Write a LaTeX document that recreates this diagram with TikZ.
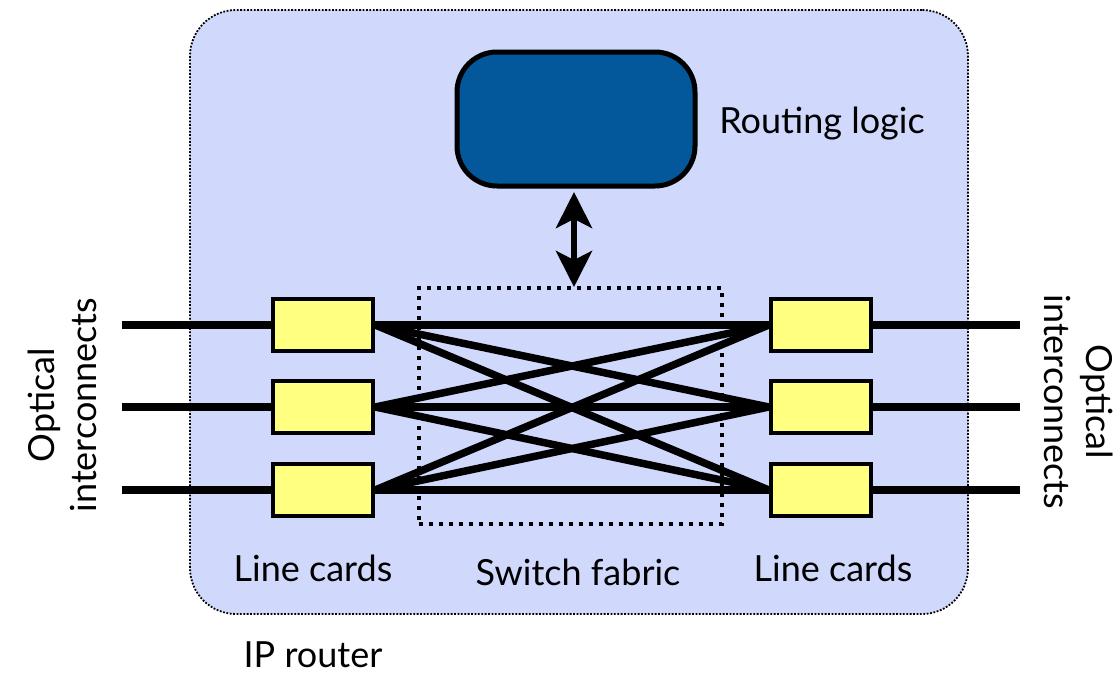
\documentclass[tikz,border=0pt]{standalone}
\usepackage{fontspec}
\setmainfont{Lato}
\usetikzlibrary{arrows.meta}
\definecolor{bgfill}{RGB}{208,216,252}
\definecolor{rlblue}{RGB}{2,88,155}
\definecolor{cardyellow}{RGB}{255,255,128}
\tikzset{
  card/.style={draw=black, line width=4.5pt, fill=cardyellow, minimum width=100pt, minimum height=52pt, inner sep=0pt},
  fabline/.style={line width=7.5pt},
  optline/.style={line width=8pt},
  lbl/.style={font=\fontsize{36}{40}\selectfont, inner sep=0pt},
}
\begin{document}
\begin{tikzpicture}[x=1pt,y=-1pt]
\useasboundingbox (0,0) rectangle (1116,675);
% outer router box
\node[draw=black, line width=1.8pt, dash pattern=on 1.8pt off 1.6pt, fill=bgfill, rounded corners=46pt,
      minimum width=778pt, minimum height=604pt, inner sep=0pt] (router) at (579,312) {};
% routing logic
\node[draw=black, line width=5pt, fill=rlblue, rounded corners=40pt,
      minimum width=238pt, minimum height=134pt, inner sep=0pt] (rl) at (576,119) {};
\node[lbl, anchor=center] (rltext) at (822,124) {Routing logic};
% switch fabric
\node[draw=black, line width=4pt, dash pattern=on 4pt off 6pt,
      minimum width=303pt, minimum height=236pt, inner sep=0pt] (sf) at (570,406) {};
% line cards
\node[card] (L1) at (323,325) {};
\node[card] (L2) at (323,407) {};
\node[card] (L3) at (323,490) {};
\node[card] (R1) at (821,325) {};
\node[card] (R2) at (821,407) {};
\node[card] (R3) at (821,490) {};
% optical lines
\coordinate (lo1) at (122,325);
\coordinate (lo2) at (122,407);
\coordinate (lo3) at (122,490);
\coordinate (ro1) at (1020,325);
\coordinate (ro2) at (1020,407);
\coordinate (ro3) at (1020,490);
\foreach \i in {1,2,3}{
  \draw[optline] (lo\i) -- (L\i.west);
  \draw[optline] (R\i.east) -- (ro\i);
}
% fabric lines
\foreach \i in {1,2,3}{
  \foreach \j in {1,2,3}{
    \draw[fabline] (L\i.east) -- (R\j.west);
  }
}
% arrow
\coordinate (atop) at (574,192);
\coordinate (abot) at (574,287);
\draw[line width=6pt, {Stealth[length=36pt,width=36pt,inset=9pt]}-{Stealth[length=36pt,width=36pt,inset=9pt]}] (atop) -- (abot);
% labels
\node[lbl] (lcl) at (313,568) {Line cards};
\node[lbl] (sfl) at (578,572) {Switch fabric};
\node[lbl] (lcr) at (833,568) {Line cards};
\node[lbl] (ipr) at (313,655) {IP router};
\node[lbl, rotate=90, align=center, font=\fontsize{36}{42}\selectfont] (oil) at (62,405) {Optical\\interconnects};
\node[lbl, rotate=-90, align=center, font=\fontsize{36}{42}\selectfont] (oir) at (1079,402) {Optical\\interconnects};
\end{tikzpicture}
\end{document}
